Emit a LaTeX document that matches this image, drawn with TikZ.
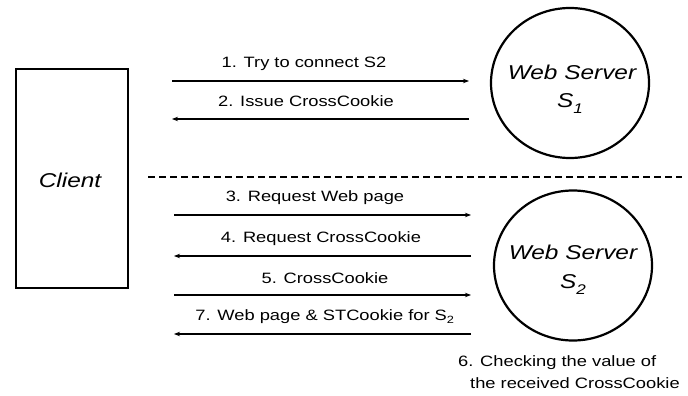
\documentclass[tikz,border=0pt]{standalone}
\usepackage{fontspec}
\setmainfont{Liberation Sans}[FakeStretch=1.22]
\usetikzlibrary{shapes.geometric,arrows.meta}
\newcommand{\srvname}[1]{S\raisebox{-6pt}{\fontsize{14}{14}\selectfont #1}}
\tikzset{
  lbl/.style={font=\fontsize{15}{17}\selectfont, inner sep=0pt},
  big/.style={font=\fontsize{20}{24}\selectfont\itshape, inner sep=0pt},
  msg/.style={line width=1.3pt, -{Stealth[length=6pt,width=4.5pt]}},
  server/.style={ellipse, draw, line width=2.2pt, minimum width=158pt, minimum height=150pt, inner sep=0pt},
  clientbox/.style={rectangle, draw, line width=2pt, minimum width=112pt, minimum height=218pt}
}
\begin{document}
\begin{tikzpicture}[x=1pt,y=-1pt]
\useasboundingbox (0,0) rectangle (688,396);
\fill[white] (0,0) rectangle (688,396);
% nodes
\node[clientbox] (client) at (71.5,178.5) {};
\node[big] (clientlbl) at (70,180) {Client};
\node[server] (s1) at (570,83) {};
\node[server] (s2) at (573,265.5) {};
\node[big] (s1a) at (572,72) {Web Server};
\node[big] (s1b) at (570,104) {\srvname{1}};
\node[big] (s2a) at (573,252) {Web Server};
\node[big] (s2b) at (573,285) {\srvname{2}};
% arrow endpoints
\coordinate (a1l) at (172,81);  \coordinate (a1r) at (469,81);
\coordinate (a2l) at (172,119); \coordinate (a2r) at (469,119);
\coordinate (a3l) at (174,215); \coordinate (a3r) at (471,215);
\coordinate (a4l) at (174,256); \coordinate (a4r) at (471,256);
\coordinate (a5l) at (174,295); \coordinate (a5r) at (471,295);
\coordinate (a7l) at (174,334); \coordinate (a7r) at (471,334);
\draw[msg] (a1l) -- (a1r);
\draw[msg] (a2r) -- (a2l);
\draw[msg] (a3l) -- (a3r);
\draw[msg] (a4r) -- (a4l);
\draw[msg] (a5l) -- (a5r);
\draw[msg] (a7r) -- (a7l);
% labels
\node[lbl] (m1) at (304,64) {1. Try to connect S2};
\node[lbl] (m2) at (306,101) {2. Issue CrossCookie};
\node[lbl] (m3) at (315,198) {3. Request Web page};
\node[lbl] (m4) at (321,239) {4. Request CrossCookie};
\node[lbl] (m5) at (325,278) {5. CrossCookie};
\node[lbl] (m7) at (325,317) {7. Web page \& STCookie for S\textsubscript{2}};
% dashed separator
\coordinate (dl) at (148,177); \coordinate (dr) at (682,177);
\draw[line width=1.2pt, dash pattern=on 7pt off 4pt] (dl) -- (dr);
% note 6
\node[lbl, anchor=west] (n6a) at (458,363) {6. Checking the value of};
\node[lbl, anchor=west] (n6b) at (470,383) {the received CrossCookie};
\end{tikzpicture}
\end{document}
